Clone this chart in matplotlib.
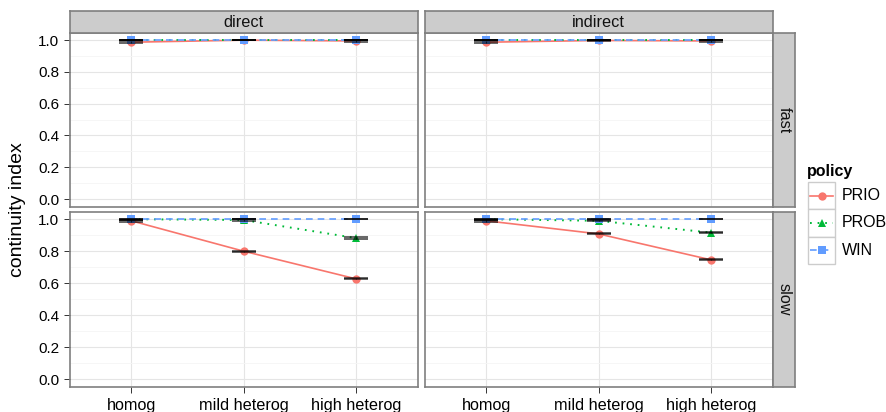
import matplotlib
matplotlib.use("Agg")
import matplotlib.pyplot as plt
from matplotlib.patches import Rectangle
from matplotlib.lines import Line2D
import numpy as np

plt.rcParams['font.family'] = ['Liberation Sans', 'DejaVu Sans']

# ---------------- data ----------------
levels = ['homog', 'mild heterog', 'high heterog']
methods = ['direct', 'indirect']
speeds = ['fast', 'slow']
policies = ['PRIO', 'PROB', 'WIN']

prio_direct_fast = [0.987, 1.0, 0.995]
prob_direct_fast = [1.0, 1.0, 1.0]
win_direct_fast = [1.0, 1.0, 1.0]

prio_indirect_fast = [0.987, 0.998, 0.995]
prob_indirect_fast = [1.0, 1.0, 1.0]
win_indirect_fast = [1.0, 1.0, 1.0]

prio_direct_slow = [0.99, 0.80, 0.627]
prob_direct_slow = [1.0, 0.995, 0.882]
win_direct_slow = [1.0, 1.0, 1.0]

prio_indirect_slow = [0.99, 0.908, 0.746]
prob_indirect_slow = [1.0, 0.99, 0.916]
win_indirect_slow = [1.0, 1.0, 1.0]

# half-widths of confidence intervals
ci_fast = [0.008, 0.002, 0.004]
ci_fast_other = [0.001, 0.001, 0.001]
ci_slow_prio = [0.006, 0.003, 0.004]
ci_slow_prob = [0.002, 0.004, 0.005]
ci_slow_win = [0.002, 0.001, 0.001]

data = {
    ('direct', 'fast'): {'PRIO': prio_direct_fast, 'PROB': prob_direct_fast, 'WIN': win_direct_fast},
    ('indirect', 'fast'): {'PRIO': prio_indirect_fast, 'PROB': prob_indirect_fast, 'WIN': win_indirect_fast},
    ('direct', 'slow'): {'PRIO': prio_direct_slow, 'PROB': prob_direct_slow, 'WIN': win_direct_slow},
    ('indirect', 'slow'): {'PRIO': prio_indirect_slow, 'PROB': prob_indirect_slow, 'WIN': win_indirect_slow},
}
cis = {
    'fast': {'PRIO': ci_fast, 'PROB': ci_fast_other, 'WIN': ci_fast_other},
    'slow': {'PRIO': ci_slow_prio, 'PROB': ci_slow_prob, 'WIN': ci_slow_win},
}

colors = {'PRIO': '#F8766D', 'PROB': '#00BA38', 'WIN': '#619CFF'}
markers = {'PRIO': 'o', 'PROB': '^', 'WIN': 's'}
dashes = {'PRIO': None, 'PROB': (0.9, 3.0), 'WIN': (4, 3)}

y_ticks = [0.0, 0.2, 0.4, 0.6, 0.8, 1.0]
y_minor = [0.1, 0.3, 0.5, 0.7, 0.9]

# ---------------- layout ----------------
W, H = 886, 412
fig = plt.figure(figsize=(W / 100, H / 100), dpi=100)


def px_axes(x0, y0, x1, y1):
    return fig.add_axes([x0 / W, 1 - y1 / H, (x1 - x0) / W, (y1 - y0) / H])


col_x = [(69.5, 417.5), (424.5, 772.5)]
row_y = [(33, 207), (212, 387)]
border = '#7F7F7F'
strip_fill = '#CCCCCC'

x = np.arange(1, len(levels) + 1)

for r, speed in enumerate(speeds):
    for c, method in enumerate(methods):
        x0, x1 = col_x[c]
        y0, y1 = row_y[r]
        ax = px_axes(x0, y0, x1, y1)
        ax.set_facecolor('white')
        ax.set_xlim(0.45, 3.55)
        ax.set_ylim(-0.05, 1.045)
        ax.set_yticks(y_ticks)
        ax.set_yticks(y_minor, minor=True)
        ax.set_xticks(x)
        ax.grid(True, which='major', color='#E5E5E5', lw=0.8, zorder=0)
        ax.grid(True, which='minor', axis='y', color='#F5F5F5', lw=0.6, zorder=0)
        ax.set_axisbelow(True)
        for s in ax.spines.values():
            s.set_color(border)
            s.set_linewidth(1.2)
            s.set_zorder(10)
        ax.tick_params(which='minor', length=0)
        ax.tick_params(which='major', length=4.3, width=0.7, color='#333333',
                       labelcolor='black')
        ax.tick_params(axis='y', labelsize=11, pad=3)
        ax.tick_params(axis='x', labelsize=11.7, pad=3.5)
        if c == 0:
            ax.set_yticklabels([f'{v:.1f}' for v in y_ticks])
        else:
            ax.tick_params(axis='y', which='major', left=False, labelleft=False)
        if r == 1:
            ax.set_xticklabels(levels)
        else:
            ax.tick_params(axis='x', which='major', bottom=False, labelbottom=False)

        vals = data[(method, speed)]
        for p in policies:
            y = vals[p]
            ln, = ax.plot(x, y, color=colors[p], lw=1.2 if p != 'PROB' else 1.4,
                          marker=markers[p], markersize=6, markeredgewidth=0,
                          zorder=3 + policies.index(p))
            if dashes[p] is not None:
                ln.set_dashes(dashes[p])
        for p in policies:
            y = np.array(vals[p])
            e = np.array(cis[speed][p])
            ax.errorbar(x, y, yerr=e, fmt='none', ecolor='black', alpha=0.65,
                        elinewidth=0.8, capsize=8.3, capthick=1.3, zorder=8)

# column strips
for c, method in enumerate(methods):
    x0, x1 = col_x[c]
    sax = px_axes(x0, 10.5, x1, 33)
    sax.set_xticks([]); sax.set_yticks([])
    sax.set_facecolor(strip_fill)
    for s in sax.spines.values():
        s.set_color(border); s.set_linewidth(1.2)
    sax.text(0.5, 0.45, method, ha='center', va='center', fontsize=11.7,
             color='#111111', transform=sax.transAxes)

# row strips
for r, speed in enumerate(speeds):
    y0, y1 = row_y[r]
    sax = px_axes(772.5, y0, 795, y1)
    sax.set_xticks([]); sax.set_yticks([])
    sax.set_facecolor(strip_fill)
    for s in sax.spines.values():
        s.set_color(border); s.set_linewidth(1.2)
    sax.text(0.5, 0.5, speed, ha='center', va='center', fontsize=11.7,
             color='#111111', rotation=-90, transform=sax.transAxes)

# y label
fig.text(18 / W, 1 - 210 / H, 'continuity index', rotation=90, ha='center',
         va='center', fontsize=14, color='black')

# legend
lax = px_axes(800, 155, 886, 275)
lax.set_xlim(800, 886)
lax.set_ylim(275, 155)
lax.axis('off')
lax.text(807, 171, 'policy', fontsize=11.5, fontweight='bold', ha='left', va='center')
key_top = 182
key_h = 27.3
for i, p in enumerate(policies):
    ty = key_top + i * key_h
    lax.add_patch(Rectangle((808, ty), 27, key_h, facecolor='white',
                            edgecolor='#CCCCCC', lw=1.0))
    cy = ty + key_h / 2
    ln = Line2D([810, 833], [cy, cy], color=colors[p], lw=1.2 if p != 'PROB' else 1.4)
    if dashes[p] is not None:
        ln.set_dashes(dashes[p])
    lax.add_line(ln)
    lax.add_line(Line2D([821.5], [cy], color=colors[p], marker=markers[p],
                        markersize=6, markeredgewidth=0, lw=0))
    lax.text(842, cy, p, fontsize=11.5, ha='left', va='center', color='black')

fig.savefig('out.png', dpi=100)
